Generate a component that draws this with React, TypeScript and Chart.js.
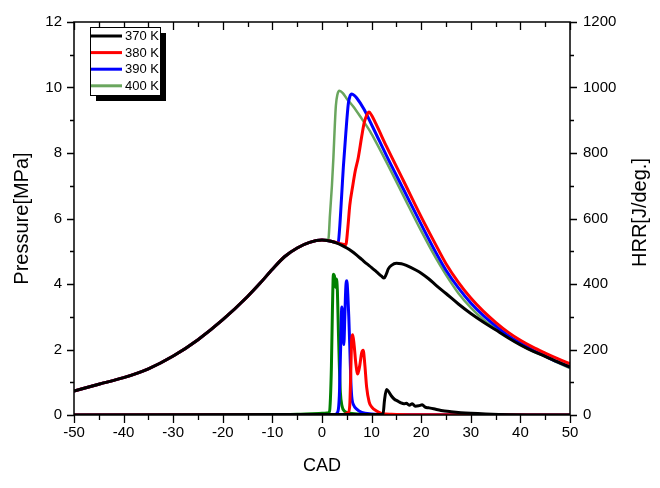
import React, { useEffect, useRef } from 'react';
import { Chart, registerables } from 'chart.js';

Chart.register(...registerables);

// ---------- data ----------
const seriesLabels = ['370 K', '380 K', '390 K', '400 K'];
const pressureColors = ['#000000', '#ff0000', '#0000ff', '#6aa65e'];
const hrrColors = ['#000000', '#ff0000', '#0000ff', '#008000'];

const xTickValues = [-50, -40, -30, -20, -10, 0, 10, 20, 30, 40, 50];
const yTickValues = [0, 2, 4, 6, 8, 10, 12];
const y2TickValues = [0, 200, 400, 600, 800, 1000, 1200];

// shared compression part of the pressure curves (CAD, MPa)
const compressionCad = [-50, -45, -40, -35, -30, -25, -20, -15, -12.5, -10, -7.5, -5, -2.5, 0];
const compressionP = [0.73, 0.94, 1.14, 1.41, 1.8, 2.3, 2.91, 3.62, 4.02, 4.45, 4.84, 5.1, 5.27, 5.34];

// pressure after TDC
const p370Cad = [1, 2, 3, 4, 5, 6, 7, 8, 9, 10, 11, 12, 12.5, 12.9, 13.4, 14, 15, 16, 17, 19, 20, 21.5, 23, 25, 27.5, 30, 32.5, 35, 37.5, 40, 42.5, 45, 47.5, 50];
const p370 = [5.33, 5.3, 5.25, 5.18, 5.1, 5.0, 4.88, 4.75, 4.62, 4.5, 4.37, 4.24, 4.18, 4.28, 4.47, 4.57, 4.63, 4.62, 4.57, 4.42, 4.33, 4.16, 3.96, 3.71, 3.39, 3.1, 2.84, 2.6, 2.36, 2.14, 1.95, 1.79, 1.62, 1.46];

const p380Cad = [1, 2, 3, 4, 4.8, 5.2, 5.6, 6.2, 6.7, 7.3, 8.0, 8.5, 9.0, 9.5, 10, 11, 13, 16.4, 20, 23, 25, 27.5, 30, 32.5, 35, 37.5, 40, 42.5, 45, 47.5, 50];
const p380 = [5.33, 5.3, 5.26, 5.22, 5.2, 5.7, 6.4, 7.0, 7.45, 7.85, 8.5, 8.92, 9.15, 9.25, 9.15, 8.85, 8.2, 7.16, 6.05, 5.18, 4.62, 4.05, 3.57, 3.17, 2.83, 2.53, 2.28, 2.07, 1.89, 1.72, 1.56];

const p390Cad = [1, 2, 3, 3.3, 3.6, 4.0, 4.3, 4.8, 5.3, 5.6, 6.0, 6.5, 7, 8.5, 9.7, 11, 13, 16.4, 20, 23, 25, 27.5, 30, 32.5, 35, 37.5, 40, 42.5, 45, 47.5, 50];
const p390 = [5.33, 5.3, 5.27, 5.3, 5.8, 6.8, 7.56, 8.6, 9.5, 9.72, 9.8, 9.76, 9.68, 9.33, 8.96, 8.55, 7.92, 6.9, 5.82, 4.95, 4.42, 3.88, 3.42, 3.04, 2.72, 2.43, 2.2, 1.98, 1.8, 1.62, 1.46];

const p400Cad = [1, 1.3, 1.6, 2.0, 2.3, 2.6, 2.8, 3.1, 3.5, 4.2, 5, 6.3, 8, 9.7, 11, 13, 16.4, 20, 23, 25, 27.5, 30, 32.5, 35, 37.5, 40, 42.5, 45, 47.5, 50];
const p400 = [5.35, 5.38, 6.1, 7.0, 7.86, 8.9, 9.45, 9.78, 9.9, 9.83, 9.66, 9.42, 9.05, 8.66, 8.3, 7.72, 6.7, 5.62, 4.78, 4.28, 3.72, 3.28, 2.92, 2.64, 2.38, 2.15, 1.95, 1.78, 1.6, 1.43];

// heat release rate (CAD, J/deg.)
const hrr370Cad = [-50, 12.3, 12.6, 13.0, 13.4, 14.0, 14.6, 15.2, 15.8, 16.5, 17.0, 17.6, 18.2, 18.8, 19.5, 20.2, 20.8, 21.5, 22.5, 24, 26, 28, 30, 33, 38, 50];
const hrr370 = [0, 2, 45, 78, 72, 58, 48, 43, 38, 34, 36, 30, 34, 27, 28, 31, 24, 22, 19, 14, 10, 7, 5, 3, 1, 0];

const hrr380Cad = [-50, 4, 5.3, 5.6, 5.8, 6.0, 6.2, 6.5, 6.8, 7.2, 7.6, 8.0, 8.3, 8.6, 9.0, 9.5, 10, 11, 12, 14, 20, 50];
const hrr380 = [0, 1, 8, 30, 130, 235, 245, 210, 160, 125, 150, 190, 198, 160, 85, 40, 25, 12, 5, 2, 0.5, 0];

const hrr390Cad = [-50, 2.5, 3.2, 3.5, 3.75, 4.0, 4.2, 4.4, 4.6, 4.8, 5.0, 5.2, 5.4, 5.6, 5.8, 6.0, 6.4, 7.0, 8, 10, 14, 50];
const hrr390 = [0, 1, 10, 60, 200, 330, 290, 215, 300, 390, 410, 370, 300, 210, 110, 55, 30, 18, 8, 3, 1, 0];

const hrr400Cad = [-50, -10, -5, -2, 0, 1, 1.5, 1.7, 1.9, 2.1, 2.3, 2.5, 2.7, 2.9, 3.1, 3.3, 3.5, 3.7, 4.0, 4.5, 6, 8, 12, 50];
const hrr400 = [0, 0.5, 2, 4, 5, 6, 10, 50, 150, 320, 430, 425, 390, 415, 380, 260, 150, 70, 30, 12, 5, 2, 1, 0];

// ---------- helpers ----------
const toPoints = (cad: number[], vals: number[]) => cad.map((x, i) => ({ x, y: vals[i] }));

const pressureSeries = [
  toPoints([...compressionCad, ...p370Cad], [...compressionP, ...p370]),
  toPoints([...compressionCad, ...p380Cad], [...compressionP, ...p380]),
  toPoints([...compressionCad, ...p390Cad], [...compressionP, ...p390]),
  toPoints([...compressionCad, ...p400Cad], [...compressionP, ...p400]),
];
const hrrSeries = [
  toPoints(hrr370Cad, hrr370),
  toPoints(hrr380Cad, hrr380),
  toPoints(hrr390Cad, hrr390),
  toPoints(hrr400Cad, hrr400),
];

const FONT = "'Liberation Sans', Arial, sans-serif";

const framePlugin = {
  id: 'originFrame',
  afterDatasetsDraw(chart: any) {
    const { ctx, chartArea: a, scales } = chart;
    const xs = scales.x, ys = scales.y, y2 = scales.y2;
    ctx.save();
    ctx.strokeStyle = '#000';
    ctx.lineWidth = 1.5;
    ctx.strokeRect(a.left, a.top, a.right - a.left, a.bottom - a.top);
    ctx.lineWidth = 1.3;
    ctx.beginPath();
    // bottom/top ticks every 5
    for (let v = -50; v <= 50; v += 5) {
      const px = Math.round(xs.getPixelForValue(v)) + 0.5;
      const major = v % 10 === 0;
      const len = major ? 8 : 5;
      ctx.moveTo(px, a.bottom);
      ctx.lineTo(px, a.bottom + len);
      ctx.moveTo(px, a.top);
      ctx.lineTo(px, a.top + len);
    }
    // left ticks every 1
    for (let v = 0; v <= 12; v += 1) {
      const py = Math.round(ys.getPixelForValue(v)) + 0.5;
      const len = v % 2 === 0 ? 7 : 4;
      ctx.moveTo(a.left, py);
      ctx.lineTo(a.left - len, py);
    }
    // right ticks every 100
    for (let v = 0; v <= 1200; v += 100) {
      const py = Math.round(y2.getPixelForValue(v)) + 0.5;
      const len = v % 200 === 0 ? 7 : 4;
      ctx.moveTo(a.right, py);
      ctx.lineTo(a.right + len, py);
    }
    ctx.stroke();

    // axis titles
    ctx.fillStyle = '#000';
    ctx.textAlign = 'center';
    ctx.textBaseline = 'middle';
    ctx.font = `18px ${FONT}`;
    ctx.fillText('CAD', (a.left + a.right) / 2, 466);
    ctx.font = `20px ${FONT}`;
    const midY = (a.top + a.bottom) / 2;
    ctx.save();
    ctx.translate(22, midY);
    ctx.rotate(-Math.PI / 2);
    ctx.fillText('Pressure[MPa]', 0, 0);
    ctx.restore();
    ctx.save();
    ctx.translate(640, midY - 6);
    ctx.rotate(-Math.PI / 2);
    ctx.fillText('HRR[J/deg.]', 0, 0);
    ctx.restore();

    // legend with drop shadow
    const bx = 90, by = 27, bw = 70, bh = 68;
    ctx.fillStyle = '#000';
    ctx.fillRect(bx + 6, by + 6, bw, bh);
    ctx.fillStyle = '#fff';
    ctx.fillRect(bx, by, bw, bh);
    ctx.lineWidth = 1;
    ctx.strokeStyle = '#000';
    ctx.strokeRect(bx + 0.5, by + 0.5, bw, bh);
    ctx.font = `13px ${FONT}`;
    ctx.textAlign = 'left';
    ctx.textBaseline = 'middle';
    seriesLabels.forEach((lab, i) => {
      const yy = 36 + i * 16.6;
      ctx.strokeStyle = pressureColors[i];
      ctx.lineWidth = 3;
      ctx.beginPath();
      ctx.moveTo(bx + 1, yy);
      ctx.lineTo(bx + 32, yy);
      ctx.stroke();
      ctx.fillStyle = '#000';
      ctx.fillText(lab, bx + 35, yy + 0.5);
    });
    ctx.restore();
  },
};

export default function App() {
  const canvasRef = useRef<HTMLCanvasElement | null>(null);

  useEffect(() => {
    const canvas = canvasRef.current;
    if (!canvas) return;
    const datasets: any[] = [];
    pressureSeries.forEach((data, i) => {
      datasets.push({
        label: 'P ' + seriesLabels[i],
        data,
        yAxisID: 'y',
        borderColor: pressureColors[i],
        borderWidth: i === 3 ? 2.5 : 3,
        pointRadius: 0,
        fill: false,
        cubicInterpolationMode: 'monotone',
      });
    });
    hrrSeries.forEach((data, i) => {
      datasets.push({
        label: 'HRR ' + seriesLabels[i],
        data,
        yAxisID: 'y2',
        borderColor: hrrColors[i],
        borderWidth: 3,
        pointRadius: 0,
        fill: false,
        cubicInterpolationMode: 'monotone',
      });
    });

    const tickFont = { family: FONT, size: 15 };
    const plain = (v: any) => String(v);
    const chart = new Chart(canvas, {
      type: 'line',
      data: { datasets },
      options: {
        animation: false,
        responsive: false,
        devicePixelRatio: 1,
        layout: { padding: { top: 16, left: 0, right: 0, bottom: 0 } },
        plugins: { legend: { display: false }, tooltip: { enabled: false } },
        scales: {
          x: {
            type: 'linear',
            min: -50,
            max: 50,
            afterBuildTicks: (s: any) => { s.ticks = xTickValues.map((v) => ({ value: v })); },
            afterFit: (s: any) => { s.height = 73; },
            ticks: { font: tickFont, color: '#000', padding: 9, maxRotation: 0, callback: plain },
            grid: { display: false, drawTicks: false },
            border: { display: false },
          },
          y: {
            type: 'linear',
            position: 'left',
            min: 0,
            max: 12,
            afterBuildTicks: (s: any) => { s.ticks = yTickValues.map((v) => ({ value: v })); },
            afterFit: (s: any) => { s.width = 74; },
            ticks: { font: tickFont, color: '#000', padding: 12, callback: plain },
            grid: { display: false, drawTicks: false },
            border: { display: false },
          },
          y2: {
            type: 'linear',
            position: 'right',
            min: 0,
            max: 1200,
            afterBuildTicks: (s: any) => { s.ticks = y2TickValues.map((v) => ({ value: v })); },
            afterFit: (s: any) => { s.width = 90; },
            ticks: { font: tickFont, color: '#000', padding: 13, callback: plain },
            grid: { display: false, drawTicks: false },
            border: { display: false },
          },
        },
      },
      plugins: [framePlugin],
    } as any);
    return () => chart.destroy();
  }, []);

  return (
    <div style={{ position: 'fixed', left: 0, top: 0, width: 660, height: 488, background: '#fff' }}>
      <canvas ref={canvasRef} width={660} height={488} style={{ width: 660, height: 488 }} />
    </div>
  );
}
